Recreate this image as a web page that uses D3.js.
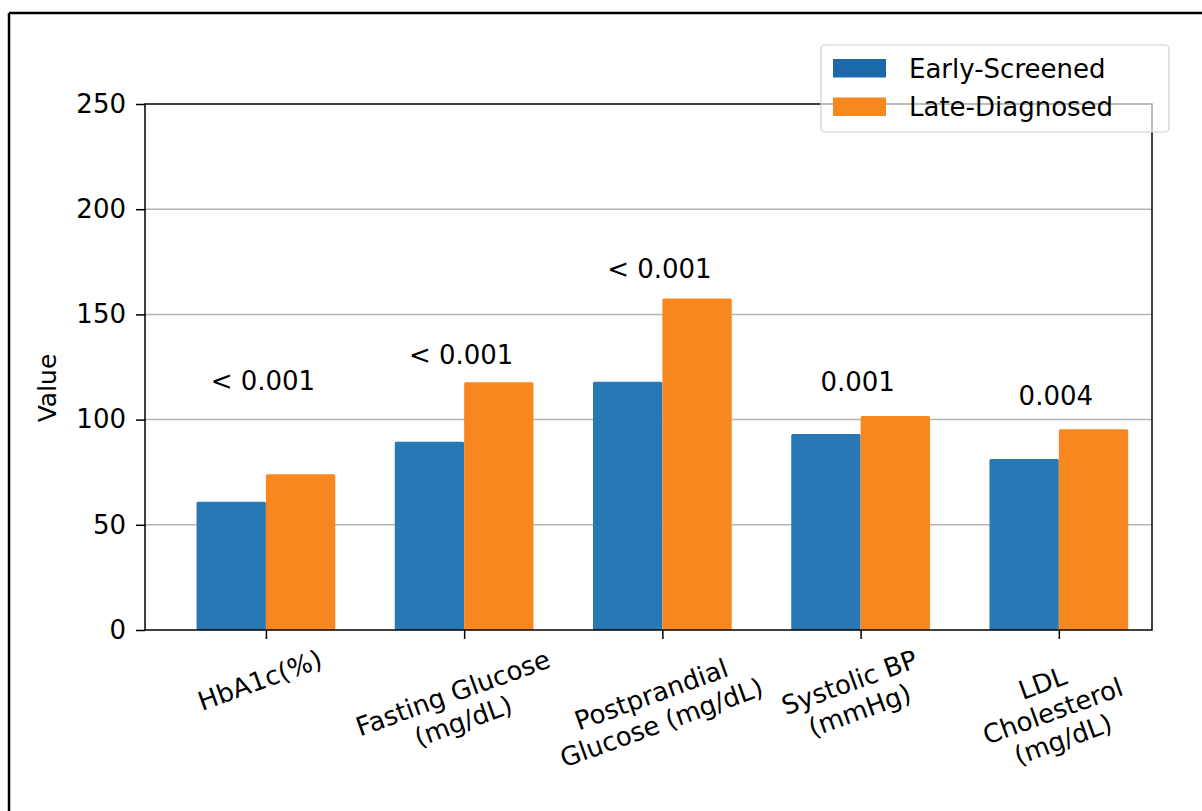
<!DOCTYPE html>
<html><head><meta charset="utf-8">
<script src="https://cdn.jsdelivr.net/npm/d3@7"></script>
<style>
html,body{margin:0;padding:0;background:#fff;}
svg{display:block;font-family:"DejaVu Sans",sans-serif;}
</style></head>
<body>
<script>
const categories = ["HbA1c(%)", "Fasting Glucose\n(mg/dL)", "Postprandial\nGlucose (mg/dL)", "Systolic BP\n(mmHg)", "LDL\nCholesterol\n(mg/dL)"];
const earlyScreened = [61, 89.5, 118, 93.2, 81.3];
const lateDiagnosed = [74, 117.7, 157.6, 101.7, 95.4];
const pLabels = ["< 0.001", "< 0.001", "< 0.001", "0.001", "0.004"];
const pLabelY = [114, 126.5, 167.5, 113.5, 107];
const yTicks = [0, 50, 100, 150, 200, 250];
const seriesNames = ["Early-Screened", "Late-Diagnosed"];

const W = 1202, H = 811;
const colors = ["#2878b6", "#f9871f"];
const legendColors = ["#1b68aa", "#f9871f"];
const svg = d3.select("body").append("svg").attr("width", W).attr("height", H);

// outer frame
svg.append("line").attr("x1", 9).attr("x2", W).attr("y1", 13).attr("y2", 13).attr("stroke", "#000").attr("stroke-width", 2.5);
svg.append("line").attr("x1", 9).attr("x2", 9).attr("y1", 13).attr("y2", H).attr("stroke", "#000").attr("stroke-width", 2.5);

const L = 145, R = 1152, T = 104, B = 630;
const x = d3.scaleLinear().domain([-0.61, 4.47]).range([L, R]);
const y = d3.scaleLinear().domain([0, 250]).range([B, T]);
const bw = 0.35;

// grid
svg.append("g").selectAll("line").data(yTicks.filter(t => t > 0 && t < 250)).join("line")
  .attr("x1", L).attr("x2", R).attr("y1", d => y(d)).attr("y2", d => y(d))
  .attr("stroke", "#b5b5b5").attr("stroke-width", 1.5);

// bars
const series = [earlyScreened, lateDiagnosed];
series.forEach((vals, s) => {
  svg.append("g").selectAll("rect").data(vals).join("rect")
    .attr("x", (d, i) => x(i + (s === 0 ? -bw : 0)))
    .attr("width", x(bw) - x(0))
    .attr("y", d => y(d))
    .attr("height", d => y(0) - y(d))
    .attr("rx", 1.5)
    .attr("fill", colors[s]);
});

// y axis
const yAxis = svg.append("g").attr("transform", `translate(${L},0)`)
  .call(d3.axisLeft(y).tickValues(yTicks).tickSize(9).tickPadding(10));
yAxis.select(".domain").remove();
yAxis.selectAll("line").attr("stroke", "#000").attr("stroke-width", 1.5);
yAxis.selectAll("text").attr("font-size", 26).attr("fill", "#000").attr("font-family", "DejaVu Sans");

// x axis ticks
const xAxis = svg.append("g").attr("transform", `translate(0,${B})`)
  .call(d3.axisBottom(x).tickValues(d3.range(categories.length)).tickSize(9).tickFormat(""));
xAxis.select(".domain").remove();
xAxis.selectAll("line").attr("stroke", "#000").attr("stroke-width", 1.5);

// x tick labels: rotated, multi-line, centered, top aligned
categories.forEach((c, i) => {
  const g = svg.append("g");
  const t = g.append("text").attr("font-size", 26).attr("text-anchor", "middle").attr("fill", "#000")
    .attr("transform", "rotate(-20)");
  c.split("\n").forEach((line, k) => {
    t.append("tspan").attr("x", 0).attr("dy", k === 0 ? 0 : "1.15em").text(line);
  });
  const bb = g.node().getBoundingClientRect();
  const cx = (bb.left + bb.right) / 2, top = bb.top;
  g.attr("transform", `translate(${x(i) - cx - 6},${B + 14 - top})`);
});

// spines
svg.append("rect").attr("x", L).attr("y", T).attr("width", R - L).attr("height", B - T)
  .attr("fill", "none").attr("stroke", "#000").attr("stroke-width", 1.5);

// p-value annotations
svg.append("g").selectAll("text").data(pLabels).join("text")
  .attr("x", (d, i) => x(i) - 3).attr("y", (d, i) => y(pLabelY[i]))
  .attr("text-anchor", "middle").attr("font-size", 26).attr("fill", "#000").text(d => d);

// y label
svg.append("text").attr("transform", "translate(56,388) rotate(-90)").attr("text-anchor", "middle")
  .attr("font-size", 25).attr("fill", "#000").text("Value");

// legend
const lg = svg.append("g");
lg.append("rect").attr("x", 821).attr("y", 45).attr("width", 348).attr("height", 87).attr("rx", 4)
  .attr("fill", "#fff").attr("fill-opacity", 0.65).attr("stroke", "#cfcfcf").attr("stroke-width", 1.2);
seriesNames.forEach((n, k) => {
  lg.append("rect").attr("x", 833).attr("y", 59 + k * 38.5).attr("width", 53).attr("height", 18.5).attr("fill", legendColors[k]);
  lg.append("text").attr("x", 909).attr("y", 77.5 + k * 38.5).attr("font-size", 26).attr("fill", "#000").text(n);
});
</script>
</body></html>
